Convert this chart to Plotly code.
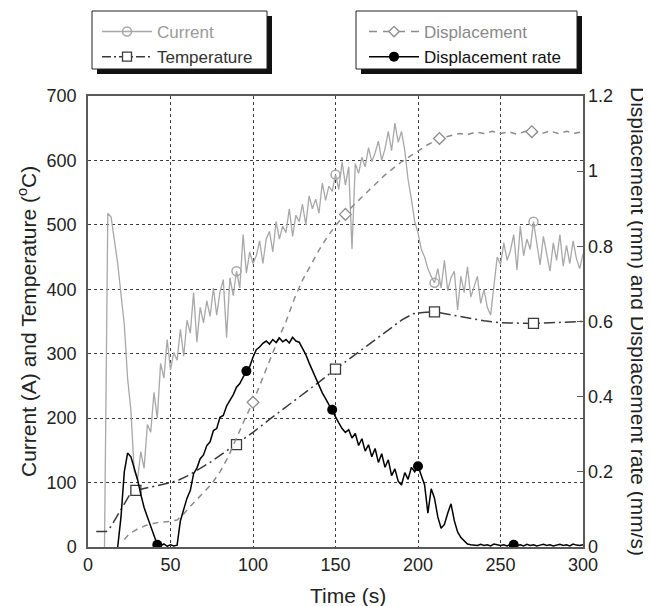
import plotly.graph_objects as go

# ---------------- data ----------------
current_t = list(range(10, 301, 2))
current_a = [
    0, 518, 512, 478, 440, 392, 345, 262, 212, 118,
    104, 148, 122, 190, 178, 240, 200, 285, 262, 322,
    275, 302, 290, 338, 296, 352, 332, 395, 318, 372,
    348, 382, 358, 402, 360, 396, 415, 325, 418, 390,
    428, 402, 485, 425, 458, 440, 452, 475, 440, 478,
    490, 458, 505, 478, 498, 488, 525, 482, 515, 505,
    532, 500, 545, 525, 540, 518, 565, 538, 560, 552,
    578, 555, 598, 562, 590, 462, 595, 580, 605, 590,
    620, 598, 612, 630, 600, 618, 645, 615, 658, 628,
    645, 615, 570, 540, 505, 488, 462, 450, 432, 420,
    410, 432, 402, 445, 398, 418, 428, 368, 420, 395,
    435, 388, 405, 420, 378, 400, 372, 360, 405, 450,
    438, 472, 445, 460, 485, 430, 498, 452, 478, 462,
    505, 470, 438, 482, 455, 428, 472, 445, 485, 436,
    468, 440, 475, 448, 432, 455,
]

temp_t = [5, 11, 14, 18, 22, 25, 29,
          35, 40, 45, 50, 55, 60, 65, 70, 75, 80, 85, 90,
          100, 110, 120, 130, 140, 150, 160, 170, 180, 190,
          197, 203, 210,
          220, 230, 240, 250, 260, 270, 280, 290, 300]
temp_c = [24, 24, 32, 50, 68, 80, 88,
          91, 94, 97, 100, 104, 110, 117, 125, 133, 142, 150, 159,
          178, 198, 217, 237, 256, 276, 295, 315, 334, 352,
          362, 364, 365,
          360, 355, 351, 348, 347, 347, 348, 349, 350]

disp_t = [22, 25, 30, 35, 43, 50, 54, 58, 62, 66,
          70, 75, 80, 85, 90, 95, 100, 105, 110, 115,
          120, 125, 130, 135, 140, 145, 150, 156, 160, 170,
          180, 190, 200, 205, 213, 220, 225, 230, 235, 240,
          245, 250, 255, 260, 265, 269, 275, 280, 285, 290,
          295, 300]
disp_mm = [0.02, 0.035, 0.048, 0.057, 0.066, 0.068, 0.072, 0.088, 0.108, 0.126,
           0.145, 0.168, 0.2, 0.24, 0.29, 0.34, 0.385, 0.44, 0.5, 0.55,
           0.6, 0.66, 0.71, 0.75, 0.79, 0.825, 0.855, 0.885, 0.905, 0.948,
           0.99, 1.025, 1.055, 1.068, 1.087, 1.095, 1.1, 1.097, 1.104, 1.1,
           1.106, 1.1, 1.105, 1.098, 1.106, 1.105, 1.1, 1.107, 1.1, 1.106,
           1.101, 1.105]

rate_t = list(range(18, 301, 2))
rate_mms = [
    0, 0.08, 0.2, 0.25, 0.24, 0.21, 0.18, 0.14, 0.105, 0.08,
    0.055, 0.03, 0.006, 0.003, 0.008, 0.002, 0.006, 0.003, 0.005, 0.07,
    0.1, 0.13, 0.15, 0.195, 0.21, 0.235, 0.245, 0.27, 0.28, 0.31,
    0.315, 0.345, 0.35, 0.375, 0.39, 0.405, 0.425, 0.435, 0.452, 0.468,
    0.48, 0.505, 0.525, 0.532, 0.542, 0.548, 0.54, 0.552, 0.544, 0.556,
    0.546, 0.552, 0.543, 0.558, 0.548, 0.545, 0.53, 0.512, 0.49, 0.47,
    0.452, 0.43, 0.41, 0.395, 0.378, 0.365, 0.345, 0.33, 0.315, 0.305,
    0.312, 0.29, 0.302, 0.27, 0.288, 0.255, 0.272, 0.24, 0.262, 0.225,
    0.248, 0.212, 0.232, 0.19, 0.208, 0.175, 0.165, 0.198, 0.18, 0.212,
    0.2, 0.215, 0.19, 0.165, 0.09, 0.155, 0.13, 0.08, 0.05, 0.06,
    0.09, 0.115, 0.07, 0.04, 0.025, 0.015, 0.008, 0.006, 0.005, 0.004,
    0.007, 0.004, 0.006, 0.003, 0.008, 0.005, 0.004, 0.006, 0.003, 0.007,
    0.006, 0.004, 0.006, 0.003, 0.007, 0.004, 0.006, 0.003, 0.005, 0.007,
    0.004, 0.006, 0.003, 0.005, 0.007, 0.004, 0.006, 0.003, 0.008, 0.005,
    0.004, 0.006,
]

current_marker_t = [90, 150, 210, 270]
temp_marker_t = [29, 90, 150, 210, 270]
disp_marker_t = [100, 156, 213, 269]
rate_marker_t = [42, 96, 148, 200, 258]

x_ticks = [0, 50, 100, 150, 200, 250, 300]
y_ticks = [0, 100, 200, 300, 400, 500, 600, 700]
y2_ticks = [0, 0.2, 0.4, 0.6, 0.8, 1.0, 1.2]

names = ["Current", "Temperature", "Displacement", "Displacement rate"]


def pick(ts, vs, marks):
    lookup = dict(zip(ts, vs))
    return [lookup[m] for m in marks]


# ---------------- geometry (page has an 8px body margin) ----------------
OFF = 8
W, H = 651 - OFF, 606 - OFF
L, R, T, B = 88 - OFF, 68, 96 - OFF, 59
PW, PH = W - L - R, H - T - B


def px_x(px):
    return (px - OFF - L) / PW


def px_y(py):
    return (H - B - (py - OFF)) / PH


FONT = "Liberation Sans, Arial, sans-serif"
C_CUR = "#a8a8a8"
C_TEMP = "#3a3a3a"
C_DISP = "#8c8c8c"
C_RATE = "#000000"
TEMP_DASH = "11px,4px,2px,4px"
DISP_DASH = "6px,5px"

fig = go.Figure()

# ---- data lines ----
fig.add_trace(go.Scatter(x=current_t, y=current_a, mode="lines", showlegend=False,
                         line=dict(color=C_CUR, width=1.3), hoverinfo="skip"))
fig.add_trace(go.Scatter(x=temp_t, y=temp_c, mode="lines", showlegend=False,
                         line=dict(color=C_TEMP, width=1.5, dash=TEMP_DASH), hoverinfo="skip"))
fig.add_trace(go.Scatter(x=disp_t, y=disp_mm, mode="lines", showlegend=False, yaxis="y2",
                         line=dict(color=C_DISP, width=1.5, dash=DISP_DASH), hoverinfo="skip"))
fig.add_trace(go.Scatter(x=rate_t, y=rate_mms, mode="lines", showlegend=False, yaxis="y2",
                         line=dict(color=C_RATE, width=1.5), hoverinfo="skip"))

# ---- markers ----
fig.add_trace(go.Scatter(x=current_marker_t, y=pick(current_t, current_a, current_marker_t),
                         mode="markers", showlegend=False,
                         marker=dict(symbol="circle-open", size=9, color=C_CUR, line=dict(width=1.5))))
fig.add_trace(go.Scatter(x=temp_marker_t, y=pick(temp_t, temp_c, temp_marker_t),
                         mode="markers", showlegend=False,
                         marker=dict(symbol="square", size=10, color="white",
                                     line=dict(color=C_TEMP, width=1.3))))
fig.add_trace(go.Scatter(x=disp_marker_t, y=pick(disp_t, disp_mm, disp_marker_t),
                         mode="markers", showlegend=False, yaxis="y2",
                         marker=dict(symbol="diamond", size=9, color="white",
                                     line=dict(color=C_DISP, width=1.3))))
fig.add_trace(go.Scatter(x=rate_marker_t, y=pick(rate_t, rate_mms, rate_marker_t),
                         mode="markers", showlegend=False, yaxis="y2",
                         marker=dict(symbol="circle", size=10, color=C_RATE)))

# ---- legend entries ----
fig.add_trace(go.Scatter(x=[None], y=[None], mode="lines+markers", legend="legend",
                         name='<span style="color:#9a9a9a">%s</span>' % names[0],
                         line=dict(color=C_CUR, width=1.5),
                         marker=dict(symbol="circle-open", size=9, color=C_CUR, line=dict(width=1.5))))
fig.add_trace(go.Scatter(x=[None], y=[None], mode="lines+markers", legend="legend",
                         name='<span style="color:#333333">%s</span>' % names[1],
                         line=dict(color=C_TEMP, width=1.5, dash="9px,3px,2px,3px"),
                         marker=dict(symbol="square", size=9, color="white",
                                     line=dict(color=C_TEMP, width=1.3))))
fig.add_trace(go.Scatter(x=[None], y=[None], mode="lines+markers", legend="legend2", yaxis="y2",
                         name='<span style="color:#8a8a8a">%s</span>' % names[2],
                         line=dict(color=C_DISP, width=1.5, dash="8px,6px"),
                         marker=dict(symbol="diamond", size=8, color="white",
                                     line=dict(color=C_DISP, width=1.3))))
fig.add_trace(go.Scatter(x=[None], y=[None], mode="lines+markers", legend="legend2", yaxis="y2",
                         name='<span style="color:#111111">%s</span>' % names[3],
                         line=dict(color=C_RATE, width=1.5),
                         marker=dict(symbol="circle", size=10, color=C_RATE)))

# ---- legend boxes with drop shadow ----
shapes = []
for (x0, x1) in [(92, 267), (356, 577)]:
    shapes.append(dict(type="rect", xref="paper", yref="paper", layer="above",
                       x0=px_x(x0 + 5), x1=px_x(x1 + 5), y0=px_y(16), y1=px_y(74),
                       fillcolor="#111111", line=dict(width=0)))
    shapes.append(dict(type="rect", xref="paper", yref="paper", layer="above",
                       x0=px_x(x0), x1=px_x(x1), y0=px_y(11), y1=px_y(69),
                       fillcolor="white", line=dict(color="#222222", width=1)))

grid = dict(showgrid=True, gridcolor="#3c3c3c", gridwidth=1.3, griddash="dot")
frame = dict(showline=True, linecolor="#5a5a5a", linewidth=1.5, mirror=True, zeroline=False)

fig.update_layout(
    width=W, height=H,
    margin=dict(l=L, r=R, t=T, b=B, autoexpand=False),
    paper_bgcolor="white", plot_bgcolor="white",
    font=dict(family=FONT, size=18, color="#222222"),
    showlegend=True,
    xaxis=dict(range=[0, 300], tickvals=x_ticks, ticks="", ticklabelstandoff=1,
               tickfont=dict(size=18), **grid, **frame),
    yaxis=dict(range=[0, 700], tickvals=y_ticks, ticks="", ticklabelstandoff=6,
               tickfont=dict(size=18), **grid, **frame),
    yaxis2=dict(range=[0, 1.2], tickvals=y2_ticks, overlaying="y", side="right",
                showgrid=False, zeroline=False, showline=False,
                ticks="inside", ticklen=6, tickcolor="#5a5a5a", tickwidth=1.3,
                ticklabelstandoff=4, tickfont=dict(size=18)),
    legend=dict(x=px_x(97), y=px_y(14), xanchor="left", yanchor="top",
                bgcolor="rgba(0,0,0,0)", borderwidth=0, itemwidth=50,
                font=dict(family=FONT, size=17), tracegroupgap=0),
    legend2=dict(x=px_x(364), y=px_y(14), xanchor="left", yanchor="top",
                 bgcolor="rgba(0,0,0,0)", borderwidth=0, itemwidth=50,
                 font=dict(family=FONT, size=17), tracegroupgap=0),
    shapes=shapes,
    annotations=[
        dict(text="Current (A) and Temperature (<sup>o</sup>C)", textangle=-90,
             x=px_x(27), y=px_y(322), xref="paper", yref="paper",
             xanchor="center", yanchor="middle", showarrow=False,
             font=dict(family=FONT, size=21, color="#222222")),
        dict(text="Displacement (mm) and Displacement rate (mm/s)", textangle=90,
             x=px_x(639), y=px_y(321), xref="paper", yref="paper",
             xanchor="center", yanchor="middle", showarrow=False,
             font=dict(family=FONT, size=21, color="#222222")),
        dict(text="Time (s)", x=px_x(348), y=px_y(595), xref="paper", yref="paper",
             xanchor="center", yanchor="middle", showarrow=False,
             font=dict(family=FONT, size=21, color="#222222")),
    ],
)

fig.write_html("out.html")
